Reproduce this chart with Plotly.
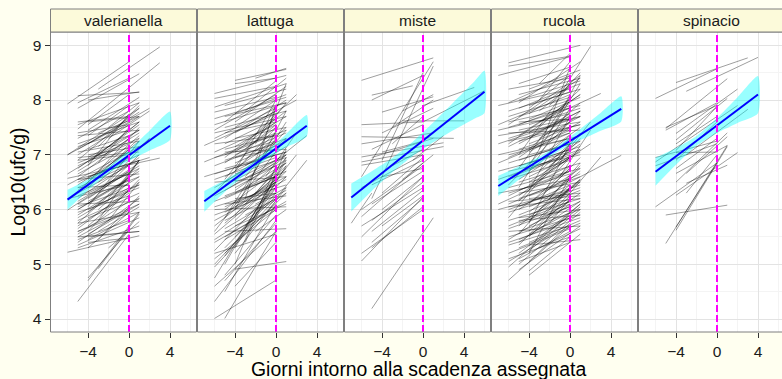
import plotly.graph_objects as go

# ---------------- data ----------------
panels = ["valerianella", "lattuga", "miste", "rucola", "spinacio"]
x_ticks = [-4, 0, 4]
y_ticks = [4, 5, 6, 7, 8, 9]
x_title = "Giorni intorno alla scadenza assegnata"
y_title = "Log10(ufc/g)"

# individual sample trajectories: (day_start, log_start, day_end, log_end)
valerianella_segments = [
    (-6, 7.93, 0, 8.70), (-5, 7.85, 1, 8.48), (-5, 8.08, 1, 8.14), (-4, 8.00, 1, 8.15),
    (-5, 7.47, 3, 8.68), (-3, 8.20, 3, 8.97), (-5, 7.95, 0, 8.40), (-4, 7.55, 0, 8.10),
    (-5, 6.90, 1, 7.85), (-4, 7.20, 1, 7.78), (-6, 7.00, 0, 7.60), (-5, 7.30, 0, 7.80),
    (-3, 7.40, 1, 7.70), (-5, 7.10, 2, 7.85), (-4, 6.80, 0, 7.75), (-5, 6.70, 1, 7.40),
    (-5, 7.40, 0, 7.55), (-3, 7.00, 1, 7.60), (-2, 7.30, 2, 7.80), (-5, 6.60, 0, 7.30),
    (-4, 6.95, 1, 7.45), (-5, 7.05, 1, 7.25), (-6, 6.45, 1, 7.15), (-5, 6.80, 0, 7.20),
    (-5, 6.50, 1, 7.00), (-4, 6.40, 0, 7.10), (-5, 6.90, 0, 7.00), (-3, 6.70, 1, 7.35),
    (-5, 6.20, 1, 6.95), (-4, 6.60, 1, 6.90), (-5, 6.30, 0, 6.80), (-6, 6.57, 3, 6.94),
    (-5, 6.55, 2, 6.95), (-5, 6.10, 1, 6.80), (-4, 6.20, 0, 6.70), (-5, 6.00, 0, 6.55),
    (-5, 5.90, 1, 6.60), (-4, 6.00, 1, 6.45), (-5, 5.80, 1, 6.30), (-3, 6.30, 1, 6.60),
    (-5, 6.40, 0, 6.45), (-5, 5.70, 0, 6.30), (-4, 5.85, 1, 6.20), (-5, 5.60, 1, 6.10),
    (-5, 5.50, 0, 6.00), (-4, 5.45, 1, 5.95), (-5, 5.35, 1, 5.85), (-3, 5.60, 1, 6.05),
    (-5, 5.45, 0, 5.80), (-5, 5.30, 1, 5.70), (-6, 5.22, 1, 5.52), (-4, 5.40, 0, 5.48),
    (-5, 4.32, 0, 5.55), (-4, 4.70, 1, 5.95), (-4, 4.75, 0, 5.62), (-3, 4.92, 1, 5.92),
    (-2, 5.30, 1, 5.78), (-6, 7.00, 1, 7.85), (-6, 5.99, 1, 6.85), (-5, 7.20, 1, 7.60),
    (-4, 7.35, 0, 7.90), (-5, 6.75, 1, 7.55), (-5, 6.35, 1, 7.25), (-4, 6.55, 0, 6.95),
    (-5, 6.15, 0, 6.70), (-4, 6.30, 1, 6.75), (-5, 6.05, 1, 6.45), (-3, 6.10, 1, 6.40),
    (-5, 5.95, 0, 6.25), (-4, 5.70, 0, 6.35), (-5, 5.65, 1, 6.50), (-4, 5.55, 1, 6.10),
    (-2, 6.50, 2, 7.30), (-1, 6.80, 2, 7.30), (-4, 7.00, 1, 7.15), (-5, 6.95, 1, 7.05),
    (-3, 6.85, 0, 7.50), (-5, 6.45, 0, 7.05), (-4, 6.10, 1, 7.00), (-5, 5.55, 0, 6.15),
    (-5, 5.75, 1, 5.95), (-4, 5.30, 0, 5.95), (-3, 5.45, 1, 6.25), (-5, 7.60, 0, 7.70),
    (-4, 7.45, 1, 8.05), (-2, 7.50, 1, 7.95),
    (-5, 7.55, 1, 7.95), (-5, 7.15, 0, 7.45), (-5, 6.85, 1, 7.30), (-5, 6.65, 0, 7.15),
    (-5, 6.40, 1, 6.90), (-5, 6.25, 0, 6.65), (-5, 6.00, 1, 6.70), (-5, 5.85, 0, 6.40),
    (-5, 5.60, 0, 5.95), (-5, 5.40, 1, 6.20), (-4, 7.10, 0, 7.35), (-4, 6.85, 1, 7.60),
    (-4, 6.45, 1, 7.30), (-4, 6.15, 0, 6.55), (-4, 5.95, 0, 6.60), (-4, 5.60, 1, 6.55),
    (-3, 6.50, 1, 7.15), (-3, 6.00, 0, 6.50), (-3, 5.80, 1, 6.90), (-6, 6.20, 0, 6.45),
    (-6, 6.65, 1, 7.45), (-5, 7.00, 1, 7.70), (-5, 6.55, 1, 6.65), (-5, 6.10, 1, 6.15),
    (-5, 5.50, 1, 5.60), (-4, 5.50, 1, 5.60), (-2, 6.20, 1, 6.90), (-2, 5.80, 1, 6.50),
    (-1, 6.40, 1, 6.90), (-5, 7.35, 1, 7.45), (-4, 7.60, 1, 7.70), (-5, 6.30, 1, 7.50),
    (-4, 6.05, 1, 7.25), (-5, 5.75, 1, 6.75), (-3, 7.15, 1, 7.90),
]

lattuga_segments = [
    (-4, 8.36, 1, 8.56), (-4, 8.30, 0, 8.40), (-2, 8.40, 1, 8.58), (-6, 8.12, 1, 8.45),
    (-6, 8.03, 0, 8.25), (-6, 7.87, 1, 8.30), (-6, 7.78, 0, 8.05), (-6, 7.66, 1, 8.05),
    (-6, 7.45, 0, 8.10), (-5, 7.90, 1, 8.20), (-5, 7.60, 0, 8.35), (-4, 7.75, 1, 8.10),
    (-3, 7.80, 1, 8.40), (-5, 7.30, 1, 8.00), (-4, 7.50, 0, 8.00), (-5, 7.50, 1, 7.80),
    (-3, 7.50, 2, 8.00), (-7, 7.17, 0, 7.75), (-7, 6.87, 0, 7.40), (-6, 7.40, 1, 7.70),
    (-5, 7.20, 0, 7.65), (-4, 7.30, 1, 7.50), (-6, 7.20, 0, 7.35), (-5, 7.00, 1, 7.45),
    (-4, 7.05, 0, 7.60), (-5, 6.90, 0, 7.20), (-6, 6.80, 1, 7.30), (-5, 6.75, 1, 7.05),
    (-4, 6.85, 1, 7.25), (-3, 6.90, 0, 7.40), (-5, 6.60, 0, 7.10), (-6, 6.55, 0, 6.95),
    (-4, 6.65, 1, 6.95), (-5, 6.45, 1, 7.00), (-4, 6.50, 0, 6.80), (-6, 6.40, 1, 7.15),
    (-5, 6.35, 0, 6.90), (-4, 6.30, 1, 6.85), (-5, 6.20, 1, 6.70), (-6, 6.15, 0, 6.60),
    (-4, 6.10, 1, 6.60), (-5, 6.05, 0, 6.45), (-5, 5.95, 1, 6.55), (-6, 5.90, 0, 6.30),
    (-4, 5.90, 0, 6.70), (-5, 5.80, 1, 6.35), (-6, 5.70, 1, 6.75), (-5, 5.65, 0, 6.20),
    (-4, 5.70, 1, 6.10), (-6, 5.55, 0, 6.50), (-5, 5.50, 1, 6.15), (-6, 5.40, 0, 6.05),
    (-5, 5.30, 0, 6.25), (-6, 5.25, 1, 6.60), (-5, 5.15, 0, 6.40), (-6, 5.10, 0, 6.00),
    (-4, 5.20, 1, 6.40), (-6, 4.95, 0, 6.15), (-5, 4.80, 0, 5.90), (-6, 4.75, 1, 6.90),
    (-6, 4.60, 0, 5.60), (-5, 4.50, 0, 6.10), (-6, 4.32, 0, 5.80), (-5, 4.01, 0, 5.60),
    (-6, 4.01, 0, 4.71), (-4, 4.91, 1, 5.05), (-4, 5.00, 0, 6.80), (-3, 5.40, 1, 7.10),
    (-5, 5.00, 1, 6.95), (-6, 5.60, 1, 7.30), (-5, 5.85, 1, 7.60), (-4, 6.00, 1, 7.80),
    (-6, 6.30, 0, 7.50), (-5, 6.55, 1, 7.95), (-4, 6.70, 0, 8.00), (-3, 6.20, 0, 7.90),
    (-2, 6.90, 1, 8.30), (-3, 7.20, 2, 8.10), (-1, 6.60, 2, 7.40), (0, 6.90, 3, 7.35),
    (-1, 6.30, 2, 7.00), (0, 6.20, 3, 6.90), (-2, 6.50, 1, 7.00), (-3, 6.80, 1, 7.30),
    (-2, 7.00, 1, 7.50), (-3, 6.40, 0, 6.65), (-2, 6.10, 1, 6.40), (-3, 5.90, 0, 6.20),
    (-2, 5.60, 1, 6.00), (-4, 6.40, 1, 6.90), (-4, 6.20, 0, 6.30), (-5, 6.10, 1, 6.25),
    (-6, 6.00, 1, 6.05), (-5, 7.10, 0, 7.35), (-4, 7.15, 1, 7.70), (-6, 7.05, 0, 7.55),
    (-5, 6.95, 1, 7.80), (-4, 6.95, 0, 7.10),
    (-6, 7.55, 1, 7.95), (-6, 7.30, 0, 7.85), (-6, 6.95, 0, 7.25), (-6, 6.65, 1, 7.05),
    (-6, 6.25, 0, 6.85), (-6, 6.05, 1, 6.45), (-6, 5.80, 0, 6.40), (-6, 5.45, 1, 6.30),
    (-6, 5.00, 0, 6.20), (-5, 7.70, 1, 7.95), (-5, 7.40, 0, 7.60), (-5, 6.85, 0, 7.50),
    (-5, 6.50, 1, 7.25), (-5, 6.25, 0, 6.60), (-5, 6.00, 1, 6.85), (-5, 5.75, 0, 6.55),
    (-5, 5.45, 0, 6.00), (-5, 5.20, 1, 6.30), (-5, 4.70, 0, 5.75), (-4, 7.60, 1, 8.25),
    (-4, 7.40, 0, 7.80), (-4, 7.00, 1, 7.40), (-4, 6.75, 0, 7.25), (-4, 6.35, 1, 7.00),
    (-4, 6.05, 0, 6.55), (-4, 5.80, 1, 6.70), (-4, 5.50, 0, 6.30), (-4, 5.30, 1, 6.80),
    (-3, 7.10, 0, 7.55), (-3, 6.60, 1, 7.45), (-3, 6.10, 1, 6.80), (-3, 5.70, 0, 6.50),
    (-2, 7.20, 0, 7.90), (-2, 6.30, 1, 6.95), (-7, 6.60, 0, 7.00), (-6, 5.20, 0, 5.55),
    (-5, 5.60, 1, 5.65), (-6, 6.50, 1, 6.60), (-5, 7.05, 1, 7.10), (-4, 4.60, 0, 5.40),
]

miste_segments = [
    (-6, 8.36, 1, 8.77), (-5, 8.09, -1, 8.26), (-5, 8.00, 0, 8.45), (-4, 7.78, 1, 8.06),
    (-6, 6.60, 1, 8.70), (-5, 6.20, 1, 8.62), (-4, 6.90, 0, 8.50), (-2, 7.62, 4, 7.62),
    (0, 7.90, 5, 8.23), (0, 7.60, 6, 8.17), (-6, 7.33, 3, 7.30), (-6, 7.20, 1, 7.40),
    (-6, 6.96, 2, 7.22), (-6, 6.87, 2, 7.15), (-6, 6.81, 0, 7.00), (-5, 7.10, 0, 7.55),
    (-4, 7.40, 1, 7.85), (-3, 7.20, 0, 7.70), (-4, 7.05, 0, 7.25), (-5, 6.95, 1, 7.30),
    (-3, 6.80, 0, 7.10), (-6, 6.40, 0, 7.00), (-5, 6.45, 0, 6.90), (-4, 6.30, 0, 6.95),
    (-6, 6.00, 0, 6.80), (-5, 6.10, 0, 6.70), (-4, 6.00, 0, 6.60), (-6, 5.87, 0, 6.85),
    (-5, 5.80, 0, 6.50), (-6, 5.70, 0, 6.40), (-5, 5.60, 0, 6.35), (-6, 5.50, 0, 6.60),
    (-4, 5.70, 0, 6.25), (-5, 5.40, 0, 6.20), (-6, 5.20, 0, 6.00), (-6, 5.06, 0, 6.23),
    (-7, 5.75, -5, 6.30), (-5, 4.19, 1, 5.85), (-5, 5.30, 0, 6.05), (-2, 6.55, 1, 7.00),
    (-1, 6.90, 2, 7.35), (-3, 7.50, 1, 8.00), (-2, 7.80, 1, 8.10), (-4, 6.60, 0, 6.75),
    (-6, 7.55, 0, 7.60),
]

rucola_segments = [
    (-6, 8.68, 1, 9.00), (-6, 8.62, 0, 8.80), (-7, 8.45, 0, 8.79), (-1, 8.10, 2, 8.98),
    (-5, 8.30, 0, 8.60), (-4, 8.20, 1, 8.55), (-5, 8.10, 1, 8.40), (-3, 8.00, 0, 8.70),
    (-6, 7.95, 0, 8.45), (-5, 7.85, 1, 8.30), (-4, 7.90, 0, 8.15), (-6, 7.80, 1, 8.20),
    (-3, 7.60, 3, 8.12), (-5, 7.70, 0, 8.00), (-7, 7.55, 0, 8.10), (-6, 7.60, 1, 7.90),
    (-4, 7.65, 1, 8.05), (-7, 7.45, 0, 7.75), (-6, 7.50, 0, 7.85), (-5, 7.45, 1, 7.70),
    (-4, 7.40, 0, 7.95), (-7, 7.35, 1, 7.60), (-6, 7.30, 0, 7.65), (-5, 7.25, 1, 7.55),
    (-4, 7.20, 0, 7.50), (-6, 7.15, 1, 7.80), (-5, 7.10, 0, 7.40), (-7, 7.00, 0, 7.30),
    (-6, 7.00, 1, 7.35), (-5, 6.95, 0, 7.60), (-4, 7.00, 1, 7.25), (-6, 6.85, 0, 7.20),
    (-5, 6.80, 1, 7.15), (-4, 6.85, 0, 7.10), (-7, 6.70, 0, 7.05), (-6, 6.70, 1, 7.00),
    (-5, 6.65, 0, 7.00), (-4, 6.60, 1, 7.05), (-6, 6.55, 0, 6.90), (-5, 6.50, 1, 6.85),
    (-4, 6.45, 0, 6.95), (-6, 6.40, 1, 6.75), (-5, 6.35, 0, 6.70), (-7, 6.30, 0, 6.55),
    (-6, 6.25, 0, 6.80), (-5, 6.20, 1, 6.60), (-4, 6.25, 0, 6.50), (-6, 6.10, 1, 6.65),
    (-5, 6.05, 0, 6.45), (-4, 6.05, 1, 6.40), (-7, 6.00, 0, 6.35), (-6, 5.95, 0, 6.30),
    (-5, 5.90, 1, 6.35), (-4, 5.90, 0, 6.20), (-6, 5.80, 1, 6.20), (-5, 5.75, 0, 6.10),
    (-4, 5.70, 1, 6.15), (-6, 5.65, 0, 6.05), (-5, 5.60, 1, 6.00), (-4, 5.55, 0, 5.95),
    (-6, 5.50, 1, 5.90), (-5, 5.45, 0, 5.85), (-4, 5.40, 1, 5.80), (-6, 5.35, 0, 5.70),
    (-5, 5.30, 1, 5.75), (-6, 5.20, 0, 5.65), (-5, 5.10, 0, 5.60), (-6, 4.71, 0, 5.70),
    (-4, 4.88, 0, 5.50), (-5, 5.00, 1, 5.95), (-6, 5.05, -2, 5.50), (-4, 5.20, 0, 6.60),
    (-5, 5.55, 1, 6.85), (-6, 5.85, 0, 7.20), (-5, 6.15, 1, 7.40), (-4, 6.35, 0, 7.70),
    (-6, 6.45, 1, 7.80), (-5, 6.75, 0, 8.05), (-4, 6.80, 1, 8.30), (-3, 7.10, 0, 8.60),
    (-2, 7.40, 1, 8.45), (-5, 7.00, 0, 8.30), (-6, 7.20, 1, 8.10), (-3, 6.50, 1, 7.30),
    (-2, 6.70, 2, 7.20), (-1, 6.60, 2, 7.45), (0, 6.50, 5, 6.99), (0, 6.30, 3, 6.96),
    (-1, 6.90, 2, 7.60), (-2, 6.20, 1, 6.80), (-3, 6.00, 1, 6.50), (-2, 5.90, 1, 6.30),
    (-3, 5.70, 0, 6.10), (-2, 6.40, 0, 6.75), (-3, 6.90, 0, 7.35), (-2, 7.10, 1, 7.50),
    (-3, 7.30, 1, 7.70), (-4, 7.55, 1, 7.85), (-5, 7.60, 0, 7.65), (-6, 7.40, 1, 7.45),
    (-5, 6.30, 1, 6.50), (-6, 6.05, 1, 6.20), (-5, 5.85, 1, 6.00), (-4, 6.20, 1, 6.30),
    (-4, 5.95, 1, 6.70), (-5, 5.35, 0, 6.30), (-6, 5.45, 0, 6.15), (-4, 5.60, 0, 6.40),
    (-4, 7.10, 1, 7.95), (-5, 7.35, 1, 8.10), (-3, 7.80, 0, 8.25), (-2, 6.00, 1, 6.55),
    (-7, 6.55, -1, 6.95),
    (-6, 7.70, 0, 8.05), (-6, 7.25, 1, 7.55), (-6, 6.95, 0, 7.45), (-6, 6.60, 1, 7.10),
    (-6, 6.30, 0, 6.65), (-6, 6.00, 1, 6.45), (-6, 5.70, 0, 6.15), (-6, 5.40, 1, 5.85),
    (-6, 5.10, 0, 5.50), (-6, 4.95, 1, 6.10), (-5, 8.00, 1, 8.35), (-5, 7.55, 0, 7.90),
    (-5, 7.20, 1, 7.80), (-5, 6.90, 0, 7.20), (-5, 6.55, 1, 7.25), (-5, 6.25, 0, 6.95),
    (-5, 6.00, 1, 6.75), (-5, 5.70, 0, 6.45), (-5, 5.40, 1, 6.15), (-5, 5.20, 0, 5.90),
    (-5, 4.90, 1, 5.70), (-4, 7.75, 1, 8.40), (-4, 7.30, 0, 7.75), (-4, 7.05, 1, 7.60),
    (-4, 6.70, 0, 7.30), (-4, 6.50, 1, 7.10), (-4, 6.10, 0, 6.80), (-4, 5.80, 1, 6.55),
    (-4, 5.50, 0, 6.25), (-4, 5.25, 1, 6.00), (-4, 5.05, 0, 5.75), (-3, 7.50, 1, 8.20),
    (-3, 6.70, 0, 7.20), (-3, 6.20, 1, 6.95), (-3, 5.85, 0, 6.40), (-3, 5.50, 1, 6.10),
    (-2, 6.80, 1, 7.20), (-2, 6.55, 0, 6.95), (-2, 5.75, 0, 6.20), (-7, 6.85, 0, 7.40),
    (-7, 6.10, 0, 6.70), (-7, 7.20, 1, 7.70), (-6, 7.55, 1, 8.45), (-5, 6.40, 0, 7.85),
    (-4, 5.75, 0, 7.20), (-5, 5.80, 1, 5.90), (-4, 5.35, 1, 5.45), (-6, 6.15, 1, 6.25),
    (-3, 5.30, 1, 5.65), (-5, 5.05, 0, 5.40), (-4, 4.80, 1, 5.55), (-6, 5.60, 1, 5.70),
    (-2, 5.60, 1, 6.05), (-1, 6.20, 1, 6.55), (-5, 7.95, 1, 8.70), (-4, 7.85, 0, 8.45),
    (-6, 8.20, 0, 8.40), (-7, 7.90, 0, 8.20), (-3, 8.30, 0, 8.85), (-2, 7.90, 1, 8.50),
]

spinacio_segments = [
    (-4, 8.32, 3, 8.77), (-3, 8.16, 4, 8.78), (-6, 8.03, 0, 8.57), (-5, 7.48, 1, 8.39),
    (-5, 7.50, 0, 7.90), (-4, 7.39, 2, 8.20), (-4, 7.27, 1, 8.03), (-4, 7.08, 0, 7.88),
    (-4, 7.04, 0, 7.05), (-6, 6.87, 2, 7.90), (-6, 6.80, 0, 7.20), (-4, 6.66, 1, 7.17),
    (-3, 6.66, 1, 7.33), (-3, 6.48, 1, 6.81), (-4, 6.26, 2, 7.04), (-6, 6.05, 0, 6.85),
    (-5, 5.90, 1, 6.08), (-5, 5.38, 1, 7.17), (-4, 5.68, 0, 6.85), (-4, 5.62, 1, 7.15),
    (-4, 6.90, 0, 7.60), (-4, 6.75, 0, 7.30), (-4, 7.20, 0, 7.70), (-4, 6.50, 1, 7.40),
    (-3, 6.30, 0, 7.00), (-6, 6.95, 0, 7.25), (-3, 7.00, 3, 7.83), (-5, 7.45, 0, 7.95),
]

segments = [valerianella_segments, lattuga_segments, miste_segments,
            rucola_segments, spinacio_segments]

# linear fit per food type (start/end of fitted line)
fit_x = [(-6, 4), (-7, 3), (-7, 6), (-7, 5), (-6, 4)]
fit_y = [(6.18, 7.53), (6.15, 7.53), (6.22, 8.15), (6.43, 7.84), (6.69, 8.10)]

# confidence band read at a few days
band_x = [
    [-6, -4, -2, 0, 2, 4],
    [-7, -5, -3, -1, 1, 3],
    [-7, -5, -3, -1, 1, 3, 5, 6],
    [-7, -5, -3, -1, 1, 3, 5],
    [-6, -4, -2, 0, 2, 4],
]
band_lo = [
    [6.00, 6.35, 6.66, 6.89, 7.08, 7.27],
    [5.96, 6.32, 6.635, 6.91, 7.14, 7.335],
    [5.965, 6.34, 6.68, 6.98, 7.23, 7.455, 7.66, 7.765],
    [6.245, 6.543, 6.834, 7.08, 7.267, 7.44, 7.61],
    [6.435, 6.818, 7.164, 7.40, 7.583, 7.76],
]
band_hi = [
    [6.36, 6.55, 6.78, 7.09, 7.44, 7.79],
    [6.34, 6.54, 6.765, 7.05, 7.38, 7.725],
    [6.475, 6.70, 6.94, 7.24, 7.59, 7.965, 8.34, 8.535],
    [6.615, 6.787, 6.966, 7.19, 7.473, 7.77, 8.07],
    [6.945, 7.126, 7.344, 7.672, 8.053, 8.44],
]

# ---------------- layout geometry ----------------
W, H = 782, 379
ML, MR, MT, MB = 50, 0, 32, 47
PW = W - ML - MR
PH = H - MT - MB
panel_left_px = [50.5 + 147 * k for k in range(5)]
panel_w_px = 146
x_lo = -7.66
px_per_day = 10.25
y_range = [3.763, 9.243]

FONT = "Liberation Sans, Arial, Helvetica, sans-serif"
grid_major = "#e3e3e3"
grid_minor = "#f4f4f4"
border = "#7f7f7f"

fig = go.Figure()
layout = dict(
    width=W, height=H,
    margin=dict(l=ML, r=MR, t=MT, b=MB, pad=0),
    paper_bgcolor="#FFFFF0", plot_bgcolor="white",
    showlegend=False,
    font=dict(family=FONT, color="#1a1a1a"),
)
shapes, annotations = [], []

for k, name in enumerate(panels):
    xa = "x" if k == 0 else f"x{k+1}"
    left = panel_left_px[k]
    right = min(left + panel_w_px, W - MR)
    dom = [(left - ML) / PW, (right - ML) / PW]
    x_hi = x_lo + (right - left) / px_per_day
    layout["xaxis" if k == 0 else f"xaxis{k+1}"] = dict(
        domain=dom, range=[x_lo, x_hi], anchor="y",
        tickmode="array", tickvals=x_ticks,
        ticks="outside", ticklen=5, tickwidth=1, tickcolor="#333333",
        tickfont=dict(size=15.5, family=FONT, color="#1a1a1a"),
        showgrid=True, gridcolor=grid_major, gridwidth=1,
        minor=dict(tickmode="array", tickvals=[-6, -2, 2, 6], showgrid=True,
                   gridcolor=grid_minor, gridwidth=0.8, ticklen=0),
        zeroline=False, showline=False, fixedrange=True,
    )

    # segments
    xs, ys = [], []
    for (x0, y0, x1, y1) in segments[k]:
        xs += [x0, x1, None]
        ys += [y0, y1, None]
    fig.add_trace(go.Scatter(x=xs, y=ys, mode="lines", xaxis=xa, yaxis="y",
                             line=dict(color="rgba(0,0,0,0.55)", width=0.7),
                             hoverinfo="skip"))
    # band
    bx = band_x[k] + band_x[k][::-1]
    by = band_hi[k] + band_lo[k][::-1]
    fig.add_trace(go.Scatter(x=bx, y=by, mode="lines", xaxis=xa, yaxis="y",
                             fill="toself", fillcolor="rgba(0,255,255,0.4)",
                             line=dict(width=0, shape="spline", smoothing=0.6),
                             hoverinfo="skip"))
    # fit line
    fig.add_trace(go.Scatter(x=list(fit_x[k]), y=list(fit_y[k]), mode="lines",
                             xaxis=xa, yaxis="y",
                             line=dict(color="#0000ff", width=2), hoverinfo="skip"))
    # vertical dashed line at expiry day
    fig.add_trace(go.Scatter(x=[0, 0], y=y_range, mode="lines", xaxis=xa, yaxis="y",
                             line=dict(color="#ff00ff", width=2, dash="7px,3px"),
                             hoverinfo="skip"))

    dref = f"{xa} domain"
    shapes.append(dict(type="rect", xref=dref, yref="y domain",
                       x0=0, x1=1 if k < 4 else 1.02, y0=0, y1=1,
                       line=dict(color=border, width=1), fillcolor="rgba(0,0,0,0)",
                       layer="above"))
    shapes.append(dict(type="rect", xref=dref, yref="paper",
                       x0=0, x1=1 if k < 4 else 1.02, y0=1, y1=1 + 23 / PH,
                       line=dict(color=border, width=1), fillcolor="#FCFADA",
                       layer="above"))
    cx = (left + panel_w_px / 2 - ML) / PW
    annotations.append(dict(text=name, xref="paper", yref="paper", x=cx,
                            y=1 + 11.5 / PH, xanchor="center", yanchor="middle",
                            showarrow=False,
                            font=dict(size=15.5, family=FONT, color="#1a1a1a")))

layout["yaxis"] = dict(
    domain=[0, 1], range=y_range, anchor="x",
    tickmode="array", tickvals=y_ticks,
    ticks="outside", ticklen=5, tickwidth=1, tickcolor="#333333",
    tickfont=dict(size=15.5, family=FONT, color="#1a1a1a"),
    showgrid=True, gridcolor=grid_major, gridwidth=1,
    minor=dict(tickmode="array", tickvals=[4.5, 5.5, 6.5, 7.5, 8.5], showgrid=True,
               gridcolor=grid_minor, gridwidth=0.8, ticklen=0),
    zeroline=False, showline=False, fixedrange=True,
)

annotations.append(dict(text=x_title, xref="paper", yref="paper",
                        x=(418 - ML) / PW, y=-(369 - (MT + PH)) / PH,
                        xanchor="center", yanchor="middle", showarrow=False,
                        font=dict(size=19.4, family=FONT, color="#000000")))
annotations.append(dict(text=y_title, xref="paper", yref="paper",
                        x=(17.5 - ML) / PW, y=0.5, textangle=-90,
                        xanchor="center", yanchor="middle", showarrow=False,
                        font=dict(size=19.4, family=FONT, color="#000000")))

layout["shapes"] = shapes
layout["annotations"] = annotations
fig.update_layout(**layout)
fig.write_html("out.html")
